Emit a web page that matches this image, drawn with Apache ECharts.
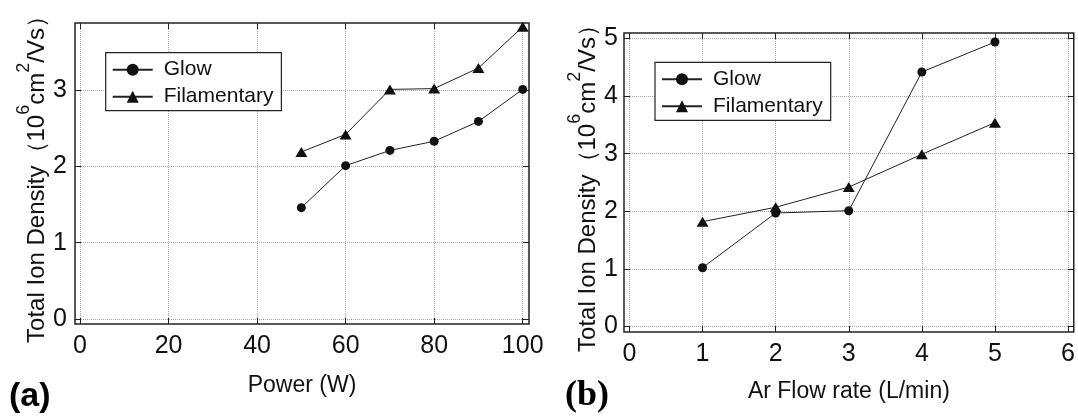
<!DOCTYPE html>
<html>
<head>
<meta charset="utf-8">
<script src="https://cdn.jsdelivr.net/npm/echarts@6/dist/echarts.min.js"></script>
<style>
  html, body { margin: 0; padding: 0; background: #fff; }
  #chart { width: 1078px; height: 420px; }
</style>
</head>
<body>
<div id="chart"></div>
<script>
// (a) total ion density versus discharge power
const powerW = [50, 60, 70, 80, 90, 100];
const glowPower = [1.46, 2.01, 2.21, 2.33, 2.59, 3.01];
const filamentaryPower = [2.19, 2.42, 3.01, 3.02, 3.29, 3.83];

// (b) total ion density versus argon flow rate
const flowRate = [1, 2, 3, 4, 5];
const glowFlow = [1.02, 1.97, 2.01, 4.42, 4.94];
const filamentaryFlow = [1.82, 2.07, 2.42, 2.99, 3.54];

// tick values
const powerTicks = [0, 20, 40, 60, 80, 100];
const densityTicksA = [0, 1, 2, 3];
const flowTicks = [0, 1, 2, 3, 4, 5, 6];
const densityTicksB = [0, 1, 2, 3, 4, 5];

const FONT = 'Liberation Sans, Arial, sans-serif';
const INK = '#111';

const yTitle = '{n|Total Ion Density（10}{s|6}{n|cm}{s|2}{n|/Vs）}';
const titleRich = {
  n: { fontSize: 24, fontFamily: FONT, color: INK, lineHeight: 34, verticalAlign: 'bottom' },
  s: { fontSize: 18, fontFamily: FONT, color: INK, lineHeight: 18, verticalAlign: 'top' }
};

function valueAxis(gridIndex, position, min, max, ticks, primary, extra) {
  return Object.assign({
    type: 'value',
    gridIndex: gridIndex,
    position: position,
    min: min,
    max: max,
    axisLine: { show: false, onZero: false },
    axisTick: {
      show: true, inside: true, length: 6, customValues: ticks,
      lineStyle: { color: '#222', width: 1 }
    },
    axisLabel: {
      show: primary, customValues: ticks, margin: 10,
      color: INK, fontSize: 25, fontFamily: FONT
    },
    splitLine: {
      show: primary,
      lineStyle: { type: 'dotted', color: '#a8a8a8', width: 1 }
    }
  }, extra || {});
}

const lineStyle = { color: '#222', width: 1 };

function series(name, symbol, size, xi, yi, xs, ys) {
  return {
    name: name,
    type: 'line',
    xAxisIndex: xi,
    yAxisIndex: yi,
    data: xs.map((x, i) => [x, ys[i]]),
    symbol: symbol,
    symbolSize: size,
    showSymbol: true,
    lineStyle: lineStyle,
    itemStyle: { color: '#111', borderWidth: 0 },
    emphasis: { disabled: true },
    animation: false
  };
}

function legendBox(left, top) {
  return {
    orient: 'vertical',
    left: left,
    top: top,
    data: ['Glow', 'Filamentary'],
    itemWidth: 40,
    itemHeight: 15,
    itemGap: 5,
    padding: [6, 8, 3, 6],
    borderColor: '#222',
    borderWidth: 1.2,
    backgroundColor: '#fff',
    selectedMode: false,
    textStyle: {
      color: INK, fontSize: 21, fontFamily: FONT, lineHeight: 22,
      padding: [0, 0, 0, 6]
    }
  };
}

const chart = echarts.init(document.getElementById('chart'), null, { renderer: 'canvas' });

chart.setOption({
  backgroundColor: '#fff',
  animation: false,
  grid: [
    { left: 75, top: 23, width: 454, height: 301, show: true, borderColor: '#222', borderWidth: 1.5, backgroundColor: 'transparent' },
    { left: 624, top: 33, width: 451, height: 299, show: true, borderColor: '#222', borderWidth: 1.5, backgroundColor: 'transparent' }
  ],
  xAxis: [
    valueAxis(0, 'bottom', -1.13, 101.42, powerTicks, true, {
      name: 'Power (W)', nameLocation: 'middle', nameGap: 50,
      nameTextStyle: { color: INK, fontSize: 23, fontFamily: FONT }
    }),
    valueAxis(0, 'top', -1.13, 101.42, powerTicks, false),
    valueAxis(1, 'bottom', -0.075, 6.078, flowTicks, true, {
      name: 'Ar Flow rate (L/min)', nameLocation: 'middle', nameGap: 48,
      nameTextStyle: { color: INK, fontSize: 23, fontFamily: FONT }
    }),
    valueAxis(1, 'top', -0.075, 6.078, flowTicks, false)
  ],
  yAxis: [
    valueAxis(0, 'left', -0.065, 3.88, densityTicksA, true, {
      name: yTitle, nameLocation: 'middle', nameGap: 26, nameRotate: 90,
      nameMoveOverlap: false,
      nameTextStyle: { rich: titleRich },
      axisLabel: { show: true, customValues: densityTicksA, margin: 8, color: INK, fontSize: 25, fontFamily: FONT }
    }),
    valueAxis(0, 'right', -0.065, 3.88, densityTicksA, false),
    valueAxis(1, 'left', -0.097, 5.097, densityTicksB, true, {
      name: yTitle, nameLocation: 'middle', nameGap: 24, nameRotate: 90,
      nameMoveOverlap: false,
      nameTextStyle: { rich: titleRich },
      axisLabel: { show: true, customValues: densityTicksB, margin: 6, color: INK, fontSize: 25, fontFamily: FONT }
    }),
    valueAxis(1, 'right', -0.097, 5.097, densityTicksB, false)
  ],
  legend: [legendBox(105.7, 52.7), legendBox(655, 62.3)],
  series: [
    series('Glow', 'circle', 9, 0, 0, powerW, glowPower),
    series('Filamentary', 'triangle', [12, 10], 0, 0, powerW, filamentaryPower),
    series('Glow', 'circle', 9, 2, 2, flowRate, glowFlow),
    series('Filamentary', 'triangle', [12, 10], 2, 2, flowRate, filamentaryFlow)
  ],
  graphic: [
    {
      type: 'text', left: 9, top: 380,
      style: { text: '(a)', fontSize: 34, fontWeight: 'bold', fontFamily: FONT, fill: '#000' }
    },
    {
      type: 'text', left: 565, top: 378,
      style: { text: '(b)', fontSize: 36, fontWeight: 'bold', fontFamily: 'Liberation Serif, serif', fill: '#000' }
    }
  ]
});
</script>
</body>
</html>
